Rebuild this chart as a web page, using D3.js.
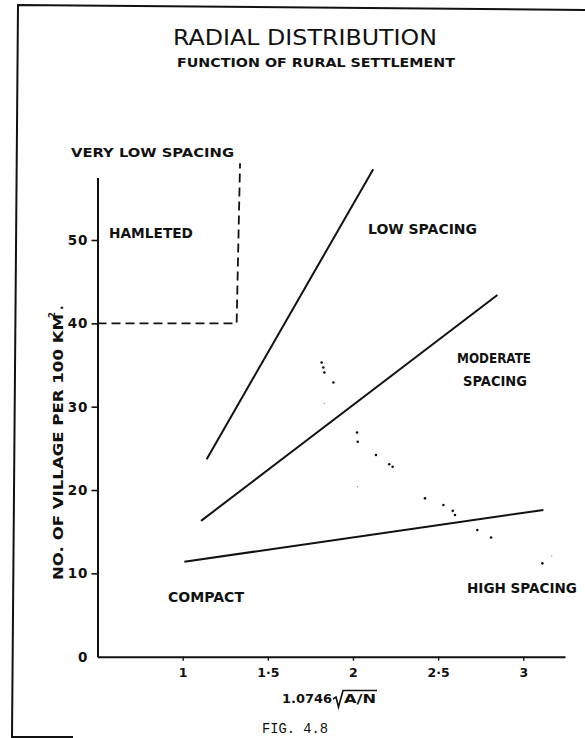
<!DOCTYPE html>
<html>
<head>
<meta charset="utf-8">
<script src="https://cdn.jsdelivr.net/npm/d3@7"></script>
<style>
  html, body { margin: 0; padding: 0; background: #fff; }
  svg { display: block; font-family: "DejaVu Sans", sans-serif; }
</style>
</head>
<body>
<svg id="chart" width="585" height="738"></svg>
<script>
// ---- data ----
const xTickValues = [1, 1.5, 2, 2.5, 3];
const xTickLabels = ["1", "1·5", "2", "2·5", "3"];
const yTickValues = [0, 10, 20, 30, 40, 50];
const yTickLabels = ["0", "10", "20", "30", "40", "50"];

// boundary lines [x, y]
const lowSpacingLine = [[1.141, 23.7], [2.119, 58.5]];
const moderateLine   = [[1.108, 16.3], [2.848, 43.4]];
const compactLine    = [[1.010, 11.4], [3.118, 17.6]];
const veryLowBoundary = [[0.5, 40], [1.317, 40], [1.337, 59.2]];

// observed settlements (dots)
const pointX = [1.816, 1.826, 1.832, 1.885, 2.024, 2.028, 2.135, 2.213, 2.233, 2.423, 2.531, 2.586, 2.599, 2.730, 2.811, 3.112];
const pointY = [35.3, 34.7, 34.1, 32.9, 26.9, 25.8, 24.2, 23.1, 22.8, 19.0, 18.2, 17.5, 17.0, 15.2, 14.3, 11.2];
const faintX = [1.832, 2.026, 3.167];
const faintY = [30.4, 20.4, 12.1];

// ---- chart ----
const svg = d3.select("#chart");
const x = d3.scaleLinear().domain([0.5, 3.245]).range([97.5, 565]);
const y = d3.scaleLinear().domain([0, 57.5]).range([656.7, 177.5]);
const INK = "#111";

// frame
const frame = d3.path();
frame.moveTo(585, 10); frame.lineTo(18, 5); frame.lineTo(12, 737); frame.lineTo(73, 737);
svg.append("path").attr("d", frame.toString()).attr("fill", "none").attr("stroke", INK).attr("stroke-width", 2);

// axes
const yAxis = d3.axisLeft(y).tickValues(yTickValues)
  .tickFormat((d, i) => yTickLabels[i]).tickSize(6).tickSizeOuter(0).tickPadding(3);
const gy = svg.append("g").attr("transform", `translate(${x(0.5)},0)`).call(yAxis)
  .attr("font-family", "DejaVu Sans");
gy.select(".domain").attr("stroke", INK).attr("stroke-width", 2);
gy.selectAll(".tick line").attr("stroke", INK).attr("stroke-width", 1.6)
  .filter(d => d === 0).remove();
gy.selectAll(".tick text").attr("font-size", 13.5).attr("font-weight", "bold")
  .attr("letter-spacing", 1).attr("fill", INK);

const xAxis = d3.axisBottom(x).tickValues(xTickValues)
  .tickFormat((d, i) => xTickLabels[i]).tickSize(4).tickSizeOuter(0).tickPadding(7);
const gx = svg.append("g").attr("transform", `translate(0,${y(0)})`).call(xAxis)
  .attr("font-family", "DejaVu Sans");
gx.select(".domain").attr("stroke", INK).attr("stroke-width", 2);
gx.selectAll(".tick line").attr("stroke", INK).attr("stroke-width", 1.4);
gx.selectAll(".tick text").attr("font-size", 12.5).attr("font-weight", "bold").attr("fill", INK);

// lines
const line = d3.line().x(d => x(d[0])).y(d => y(d[1]));
[lowSpacingLine, moderateLine, compactLine].forEach(l => {
  svg.append("path").attr("d", line(l)).attr("fill", "none")
    .attr("stroke", INK).attr("stroke-width", 2);
});
svg.append("path").attr("d", line(veryLowBoundary)).attr("fill", "none")
  .attr("stroke", INK).attr("stroke-width", 1.8).attr("stroke-dasharray", "9,5");

// dots
svg.append("g").selectAll("circle").data(pointX).join("circle")
  .attr("cx", d => x(d)).attr("cy", (d, i) => y(pointY[i])).attr("r", 1.3).attr("fill", INK);
svg.append("g").selectAll("circle").data(faintX).join("circle")
  .attr("cx", d => x(d)).attr("cy", (d, i) => y(faintY[i])).attr("r", 0.7).attr("fill", "#888");

// texts
function label(t, x0, yb, len, size, weight) {
  return svg.append("text").attr("x", x0).attr("y", yb).text(t)
    .attr("fill", INK).attr("font-family", "DejaVu Sans")
    .attr("font-size", size).attr("font-weight", weight || "bold")
    .attr("textLength", len).attr("lengthAdjust", "spacingAndGlyphs");
}
label("RADIAL  DISTRIBUTION", 173, 45, 264, 21, "normal");
label("FUNCTION OF RURAL SETTLEMENT", 177, 67, 278, 13, "bold");
label("VERY LOW SPACING", 71, 157, 163, 13, "bold");
label("HAMLETED", 109, 238, 84, 14, "bold");
label("LOW  SPACING", 368, 234, 109, 14, "bold");
label("MODERATE", 457, 363, 74, 14, "bold");
label("SPACING", 463, 386, 64, 14, "bold");
label("COMPACT", 168, 602, 76, 14, "bold");
label("HIGH SPACING", 467, 593, 110, 14, "bold");

// y axis title (rotated)
svg.append("text").attr("transform", "translate(63,580) rotate(-90)")
  .text("NO. OF  VILLAGE  PER  100  KM")
  .attr("fill", INK).attr("font-family", "DejaVu Sans")
  .attr("font-size", 13.5).attr("font-weight", "bold")
  .attr("textLength", 266).attr("lengthAdjust", "spacingAndGlyphs");
svg.append("text").attr("transform", "translate(55,318) rotate(-90)")
  .text("2").attr("fill", INK).attr("font-family", "DejaVu Sans")
  .attr("font-size", 8.5).attr("font-weight", "bold");
svg.append("text").attr("transform", "translate(63,310) rotate(-90)")
  .text(".").attr("fill", INK).attr("font-family", "DejaVu Sans")
  .attr("font-size", 12).attr("font-weight", "bold");

// x axis title with radical
label("1.0746", 282, 703, 50, 13, "bold");
const rad = d3.path();
rad.moveTo(333, 699); rad.lineTo(336, 697); rad.lineTo(338.5, 707); rad.lineTo(343, 690.5); rad.lineTo(377, 690.5);
svg.append("path").attr("d", rad.toString()).attr("fill", "none").attr("stroke", INK).attr("stroke-width", 1.6);
label("A/N", 344, 703, 32, 12, "bold");

// figure caption (typewriter)
svg.append("text").attr("x", 262).attr("y", 733).text("FIG. 4.8")
  .attr("fill", INK).attr("font-family", "Liberation Mono, DejaVu Sans Mono, monospace")
  .attr("font-size", 14)
  .attr("textLength", 66).attr("lengthAdjust", "spacingAndGlyphs");
</script>
</body>
</html>
